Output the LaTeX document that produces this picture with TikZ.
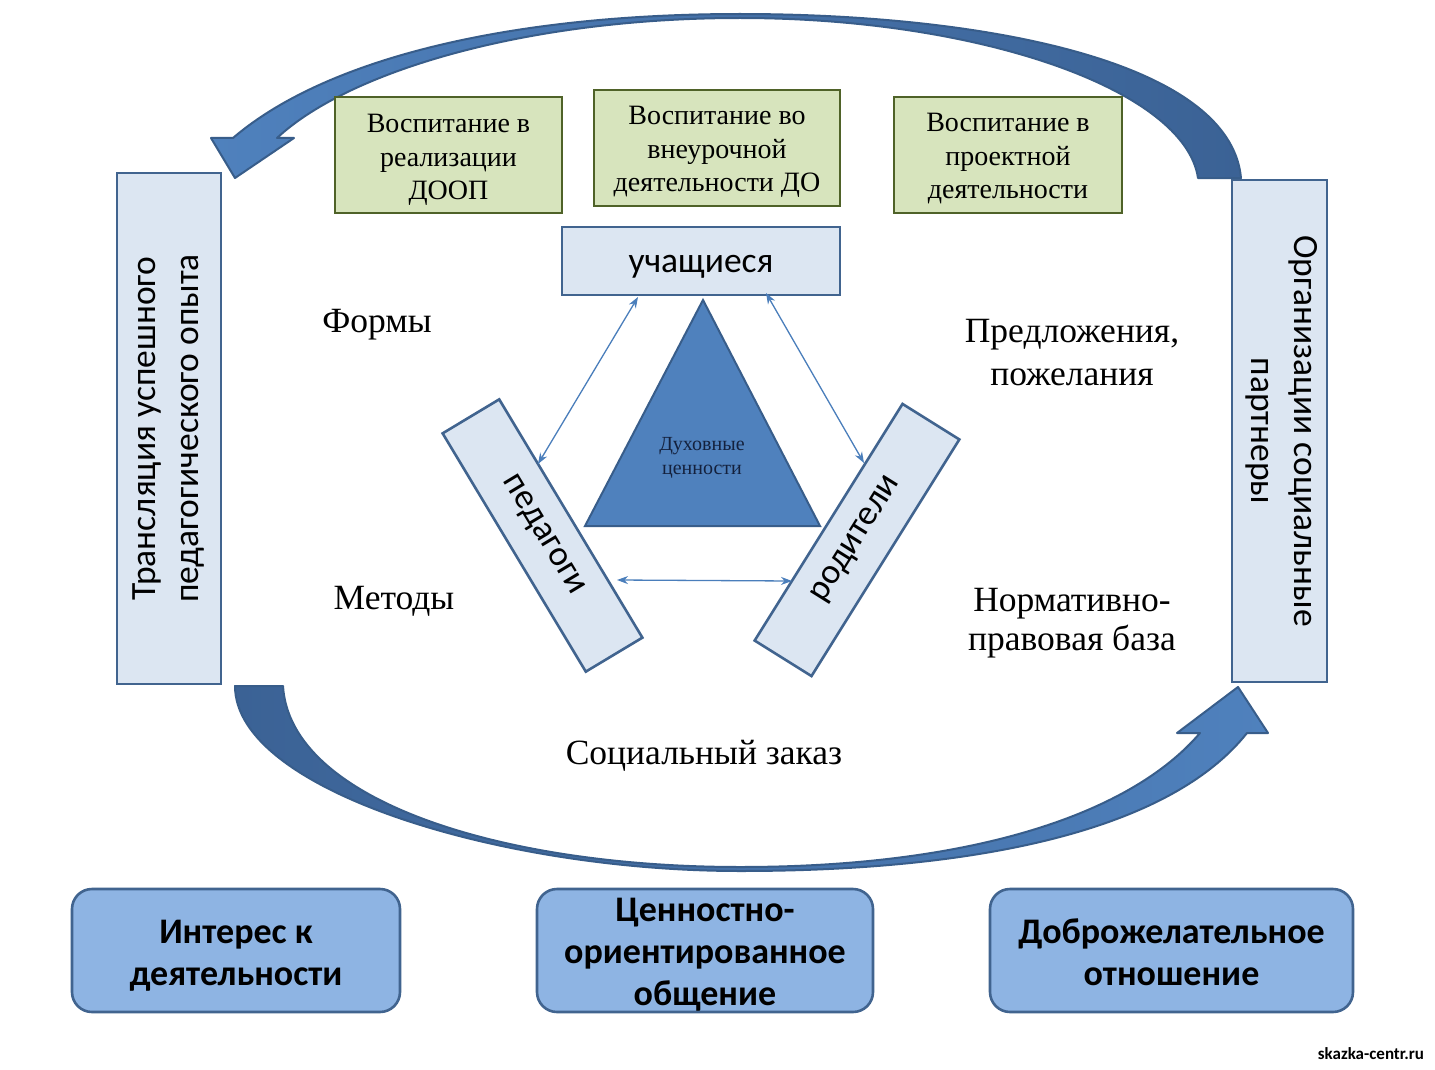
\documentclass[tikz,border=0pt]{standalone}
\usepackage{fontspec}
\setmainfont{Liberation Serif}
\setsansfont{Carlito}
\usetikzlibrary{arrows.meta,calc}
\definecolor{boxfill}{HTML}{DCE6F2}
\definecolor{boxline}{HTML}{41648F}
\definecolor{greenfill}{HTML}{D7E4BD}
\definecolor{greenline}{HTML}{4F6228}
\definecolor{triblue}{HTML}{4F81BD}
\definecolor{triline}{HTML}{385D8A}
\definecolor{bottomfill}{HTML}{8EB4E3}
\definecolor{arrowlight}{HTML}{4F81BD}
\definecolor{arrowdark}{HTML}{3B6295}
\definecolor{thinarrow}{HTML}{4A7EBB}
\definecolor{tritext}{HTML}{14213D}
\newcommand\lowerby[2]{\raisebox{-#1}[\height][\depth]{#2}}
\tikzset{
  lightbox/.style={draw=boxline, fill=boxfill, line width=2.6pt, inner sep=0pt, align=center,
    font=\sffamily\fontsize{35.5}{43}\selectfont},
  greenbox/.style={draw=greenline, fill=greenfill, line width=2.8pt, inner sep=0pt, align=center,
    font=\fontsize{28}{33.5}\selectfont},
  bottombox/.style={draw=boxline, fill=bottomfill, line width=2.6pt, rounded corners=20pt,
    inner sep=0pt, align=center, font=\sffamily\bfseries\fontsize{36}{42}\selectfont},
  label/.style={align=center, font=\fontsize{35.5}{41}\selectfont, inner sep=0pt},
  bigarrow/.style={draw=triline, line width=2pt, line join=round},
  thinlink/.style={draw=thinarrow, line width=1.3pt,
    {Stealth[length=11pt,width=8pt]}-{Stealth[length=11pt,width=8pt]}},
}
\begin{document}
\begin{tikzpicture}[x=1pt,y=-1pt]
\useasboundingbox (0,0) rectangle (1435,1070);
\fill[white] (0,0) rectangle (1435,1070);

% big curved arrows
\path[bigarrow, left color=arrowlight, right color=arrowdark]
 (1241,178) -- (1198,178) .. controls (1185,90) and (980,18) .. (740,18)
 .. controls (530,18) and (350,70) .. (277,138) -- (294,138) -- (235,178) -- (211,138) -- (233,138)
 .. controls (330,55) and (520,14) .. (740,14) .. controls (980,14) and (1230,60) .. (1241,178) -- cycle;
\path[bigarrow, left color=arrowdark, right color=arrowlight]
 (235,686) -- (283,686) .. controls (290,800) and (500,867) .. (740,867)
 .. controls (970,867) and (1130,815) .. (1200,733) -- (1177,733) -- (1238,687) -- (1268,733) -- (1247,733)
 .. controls (1170,830) and (980,871) .. (740,871) .. controls (500,871) and (235,790) .. (235,686) -- cycle;

% side boxes
\node[lightbox, rotate=90, minimum width=511pt, minimum height=104pt] (left) at (169,428.5)
  {Трансляция успешного\\педагогического опыта};
\node[lightbox, rotate=-90, minimum width=502pt, minimum height=95pt] (right) at (1279.5,431)
  {\lowerby{-2pt}{Организации социальные}\\\lowerby{-2pt}{партнеры}};

% green boxes
\node[greenbox, minimum width=227pt, minimum height=116pt] (g1) at (448.5,155)
  {\lowerby{5pt}{Воспитание в}\\\lowerby{5pt}{реализации}\\\lowerby{5pt}{ДООП}};
\node[greenbox, minimum width=246pt, minimum height=116pt] (g2) at (717,148)
  {\lowerby{4pt}{Воспитание во}\\\lowerby{4pt}{внеурочной}\\\lowerby{4pt}{деятельности ДО}};
\node[greenbox, minimum width=228pt, minimum height=116pt] (g3) at (1008,155)
  {\lowerby{4pt}{Воспитание в}\\\lowerby{4pt}{проектной}\\\lowerby{4pt}{деятельности}};

% central triad
\node[lightbox, minimum width=278pt, minimum height=68pt] (uch) at (701,261) {\lowerby{6pt}{учащиеся}};
\node[lightbox, rotate=-59, minimum width=278pt, minimum height=66pt] (ped) at (542.5,535.5) {педагоги};
\node[lightbox, rotate=58, minimum width=279pt, minimum height=67pt] (rod) at (857,540) {родители};

\draw[fill=triblue, draw=triline, line width=2pt, line join=miter] (703,300) -- (820,526) -- (585,526) -- cycle;
\node[align=center, text=tritext, font=\fontsize{20}{24}\selectfont, inner sep=0pt] (tri) at (702,458)
  {Духовные\\ценности};

\coordinate (u1) at (638,297);
\coordinate (p1) at (538,464);
\coordinate (u2) at (766,293);
\coordinate (r1) at (864,463);
\coordinate (p2) at (617,580);
\coordinate (r2) at (792,581);
\draw[thinlink] (u1) -- (p1);
\draw[thinlink] (u2) -- (r1);
\draw[thinlink] (p2) -- (r2);

% labels
\node[label] (formy) at (377,325) {Формы};
\node[label] (metody) at (394,601) {Методы};
\node[label, font=\fontsize{35.5}{43}\selectfont] (predl) at (1072,353) {Предложения,\\пожелания};
\node[label, font=\fontsize{35.5}{39}\selectfont] (norm) at (1072,623) {Нормативно-\\правовая база};
\node[label] (soc) at (704,756) {Социальный заказ};

% bottom boxes
\node[bottombox, minimum width=328pt, minimum height=123pt] (b1) at (236,950.5)
  {\lowerby{5pt}{Интерес к}\\\lowerby{5pt}{деятельности}};
\node[bottombox, minimum width=336pt, minimum height=123pt] (b2) at (705,950.5)
  {\lowerby{4pt}{Ценностно-}\\\lowerby{4pt}{ориентированное}\\\lowerby{4pt}{общение}};
\node[bottombox, minimum width=363pt, minimum height=123pt] (b3) at (1171.5,950.5)
  {\lowerby{2pt}{Доброжелательное}\\\lowerby{2pt}{отношение}};

\node[font=\sffamily\bfseries\fontsize{17}{20}\selectfont, inner sep=0pt] (wm) at (1371,1054) {skazka-centr.ru};
\end{tikzpicture}
\end{document}
